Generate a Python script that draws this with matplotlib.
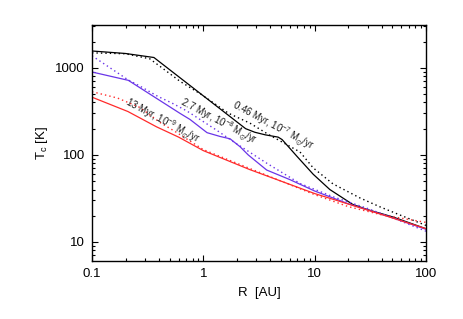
import matplotlib
matplotlib.use("Agg")
import matplotlib.pyplot as plt
from matplotlib.ticker import FixedLocator, FixedFormatter, LogLocator, NullFormatter

plt.rcParams['font.family'] = ['Liberation Sans', 'DejaVu Sans']
plt.rcParams['mathtext.default'] = 'regular'

# ---- data ----
R_black = [0.1, 0.2, 0.36, 2.4, 2.9, 3.6, 4.7, 5.1, 6.9, 9.7, 13.7, 22, 30, 51, 100]
T_black = [1560, 1460, 1313, 200, 182, 170, 160, 150, 97, 60, 40, 27, 23.5, 19.3, 14.2]
R_black_d = [0.1, 0.2, 0.33, 0.41, 0.62, 0.97, 1.68, 2.63, 3.84, 7.39, 9.7, 14.6, 25.6, 38.7, 58.5, 100]
T_black_d = [1485, 1450, 1269, 1035, 697, 490, 301, 231, 172, 108, 71, 46.5, 32, 25.3, 20.4, 15.5]

R_blue = [0.1, 0.212, 0.617, 0.76, 1.08, 1.41, 1.74, 2.14, 2.53, 3.71, 6.0, 10, 20, 50, 100]
T_blue = [895, 718, 300, 255, 180, 163, 153, 124, 100, 67, 52, 38.5, 27.5, 19, 14]
R_blue_d = [0.1, 0.21, 0.28, 0.39, 0.52, 0.71, 1.31, 1.86, 3.73, 7.38, 14.7, 29.3, 50, 100]
T_blue_d = [1374, 730, 600, 470, 395, 320, 193, 142, 80, 47, 33, 24.5, 19, 13.3]

R_red = [0.1, 0.21, 0.38, 0.6, 1.0, 2.6, 10, 20, 40, 100]
T_red = [460, 315, 210, 160, 112, 68, 36, 27.3, 20.7, 14.2]
R_red_d = [0.1, 0.17, 0.27, 0.41, 0.58, 1.0, 2.6, 10, 20, 40, 100]
T_red_d = [532, 449, 350, 235, 180, 115, 70, 35, 25.5, 20.5, 16.8]

labels = [r'0.46 Myr, 10$^{-7}$ M$_{\odot}$/yr',
          r'2.7 Myr, 10$^{-8}$ M$_{\odot}$/yr',
          r'13 Myr, 10$^{-9}$ M$_{\odot}$/yr']
label_R = [1.76, 0.60, 0.195]
label_T = [345, 372, 372]

x_ticks = [0.1, 1, 10, 100]
x_ticklabels = ['0.1', '1', '10', '100']
y_ticks = [10, 100, 1000]
y_ticklabels = ['10', '100', '1000']

BLUE = '#6a35e8'
RED = '#ff2a2a'

fig = plt.figure(figsize=(4.63, 3.19), dpi=100)
ax = fig.add_axes([0.1987, 0.1818, 0.7213, 0.7398])
ax.set_xscale('log')
ax.set_yscale('log')

dot = (0, (1, 2.2))
ax.plot(R_black, T_black, color='black', lw=0.9)
ax.plot(R_black_d, T_black_d, color='black', lw=1.0, linestyle=dot)
ax.plot(R_blue, T_blue, color=BLUE, lw=0.9)
ax.plot(R_blue_d, T_blue_d, color=BLUE, lw=1.0, linestyle=dot)
ax.plot(R_red, T_red, color=RED, lw=0.9)
ax.plot(R_red_d, T_red_d, color=RED, lw=1.0, linestyle=dot)

for txt, rx, ty in zip(labels, label_R, label_T):
    ax.text(rx, ty, txt, rotation=-28, rotation_mode='anchor', ha='left', va='baseline',
            fontsize=6.9, color='#1a1a1a')

ax.set_xlim(0.1, 100)
ax.set_ylim(6.05, 3100)

ax.xaxis.set_major_locator(FixedLocator(x_ticks))
ax.xaxis.set_major_formatter(FixedFormatter(x_ticklabels))
ax.yaxis.set_major_locator(FixedLocator(y_ticks))
ax.yaxis.set_major_formatter(FixedFormatter(y_ticklabels))
ax.xaxis.set_minor_locator(LogLocator(base=10, subs=range(2, 10)))
ax.yaxis.set_minor_locator(LogLocator(base=10, subs=range(2, 10)))
ax.xaxis.set_minor_formatter(NullFormatter())
ax.yaxis.set_minor_formatter(NullFormatter())

ax.tick_params(which='both', direction='in', top=True, right=True, width=0.8)
ax.tick_params(which='major', length=4.5, labelsize=9.5, pad=5)
ax.tick_params(which='minor', length=2.3)
for s in ax.spines.values():
    s.set_linewidth(1.0)

ax.set_xlabel('R  [AU]', fontsize=9.5, labelpad=5)
ax.set_ylabel(r'T$_c$ [K]', fontsize=9.5, labelpad=4)

fig.savefig('out.png', dpi=100)
